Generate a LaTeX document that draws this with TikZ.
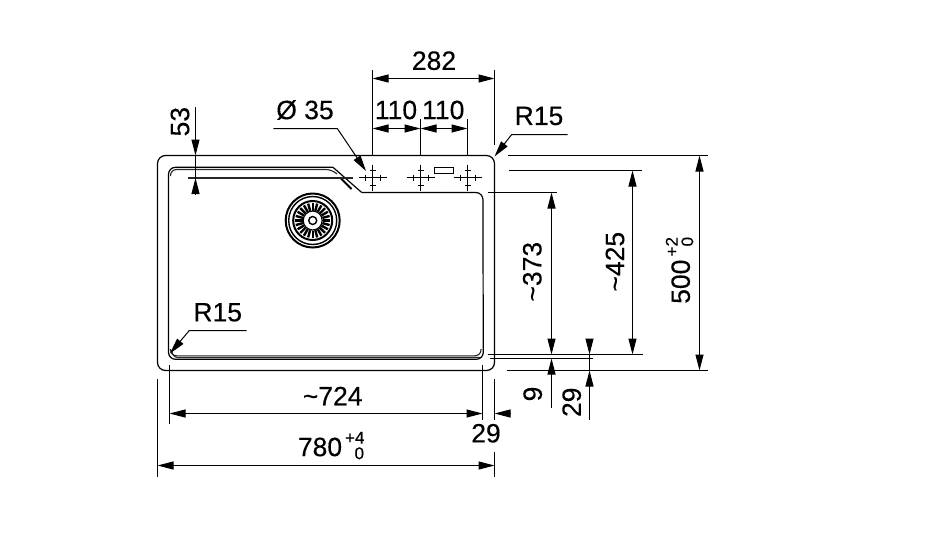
\documentclass[tikz,border=0pt]{standalone}
\usepackage{fontspec}
\setmainfont[FakeBold=0.25]{Liberation Sans}
\usetikzlibrary{arrows.meta}
\tikzset{
  % Set arrowhead
  >={Triangle[length=16pt,width=8pt]},
  % Labels
  lab/.style={inner sep=0pt, font=\fontsize{26.5}{26.5}\selectfont},
  tol/.style={inner sep=0pt, font=\fontsize{17}{17}\selectfont},
  % Sink contours
  body/.style={line width=1.2pt, black},
  lip/.style={line width=1.1pt, black!85},
  % Dimension lines
  dim/.style={line width=1pt, black},
  ext/.style={line width=1pt, black},
  leader/.style={line width=1pt, black, ->},
  % Hole marks
  mark line/.style={line width=1pt, black},
}
\begin{document}
\begin{tikzpicture}[x=1pt, y=-1pt]
  \useasboundingbox (0,0) rectangle (940,539);

  % sink outline
  \draw[body, rounded corners=8pt] (157.5,155.5) rectangle (494.5,370.5);
  \draw[body, rounded corners=7pt] (361.7,192.5) -- (482.9,192.5)
    -- (483.3,359.3) -- (168.5,359.3) -- (168.5,167.3) -- (333,167.3);
  \draw[body] (333,167.3) -- (361.7,192.5);
  \draw[lip, rounded corners=6pt] (170.5,176) -- (170.5,169.5) -- (332,169.5) -- (337,174);
  \draw[lip, rounded corners=6pt] (170.5,349) -- (170.5,355.8) -- (481,355.8) -- (481,349);
  \draw[lip, rounded corners=6pt] (172,350) -- (172,357.5) -- (480,357.5);
  \draw[line width=2pt] (341,178.5) -- (351.5,189);

  % centre line of the lip
  \draw[lip] (188,178) -- (353,178);

  % strainer
  \coordinate (strainer) at (312.7,220.5);
  \draw[line width=2pt] (strainer) circle (27);
  \draw[line width=1.4pt] (strainer) circle (24);
  \draw[line width=2pt] (strainer) circle (19.5);
  \draw[line width=1.2pt] (strainer) circle (9.5);
  \draw[line width=1.4pt] (strainer) circle (4);
  \foreach \a in {0,15,...,345}
    \draw[line width=2.4pt] (strainer) ++(\a:10) -- ++(\a:7.5);

  % tap holes
  \foreach \x/\name in {372.5/holea, 420.5/holeb, 467.5/holec} {
    \coordinate (\name) at (\x,177.5);
    \draw[mark line] (\name) ++(-14,0) -- ++(28,0);
    \draw[mark line] (\name) ++(0,-13) -- ++(0,26);
    \draw[mark line] (\name) ++(-7.5,-3) -- ++(0,6);
    \draw[mark line] (\name) ++(7.5,-3) -- ++(0,6);
    \draw[mark line] (\name) ++(-3,-7.5) -- ++(6,0);
    \draw[mark line] (\name) ++(-3,7.5) -- ++(6,0);
  }
  \draw[line width=1.3pt] (434.5,167.5) rectangle (453.5,173.5);

  % extension lines, top
  \draw[ext] (372.5,70) -- (372.5,155.5);
  \draw[ext] (494.5,70) -- (494.5,145);
  \draw[ext] (420.5,119.3) -- (420.5,155.5);
  \draw[ext] (467.5,119.3) -- (467.5,155.5);

  % top dimensions
  \draw[dim, <->] (372.5,78.5) -- (494.5,78.5);
  \draw[dim, <->] (372.5,128.5) -- (420.5,128.5);
  \draw[dim, <->] (420.5,128.5) -- (467.5,128.5);
  \node[lab] (w282) at (434,60.7) {282};
  \node[lab] (w110a) at (396,110) {110};
  \node[lab] (w110b) at (443.3,110) {110};

  % hole diameter
  \node[lab] (holedia) at (305,110) {Ø 35};
  \draw[leader] (273.3,128.5) -- (337.3,128.5) -- (366,171);

  % corner radii
  \node[lab] (rtop) at (539,116) {R15};
  \draw[leader] (567.7,134.5) -- (511.7,134.5) -- (494.5,156.5);
  \node[lab] (rbottom) at (217.7,312.3) {R15};
  \draw[leader] (246.7,330.5) -- (189.3,330.5) -- (170,353.5);

  % lip depth
  \node[lab, rotate=90] (d53) at (180,121.7) {53};
  \draw[dim, ->] (195.5,107.3) -- (195.5,155.5);
  \draw[dim, ->] (195.5,194.3) -- (195.5,178);
  \draw[dim] (195.5,155.5) -- (195.5,178);

  % extension lines, bottom
  \draw[ext] (169.5,365) -- (169.5,424);
  \draw[ext] (482.5,365) -- (482.5,420);
  \draw[ext] (494.5,379.3) -- (494.5,420);
  \draw[ext] (157.5,379) -- (157.5,476.7);
  \draw[ext] (494.5,451.7) -- (494.5,476.7);

  % bottom dimensions
  \draw[dim, <->] (169.5,413.5) -- (482.5,413.5);
  \draw[dim, <-] (494.5,413.5) -- (511,413.5);
  \draw[dim, <->] (157.5,465.5) -- (494.5,465.5);
  \node[lab] (w724) at (332.7,396) {\textasciitilde 724};
  \node[lab] (w29) at (486,433.3) {29};
  \node[lab] (w780) at (320,447) {780};
  \node[tol] (w780up) at (354.7,437.7) {+4};
  \node[tol] (w780lo) at (359.3,453.3) {0};

  % extension lines, right
  \draw[ext] (508.3,155.5) -- (708.3,155.5);
  \draw[ext] (509,170.5) -- (641.7,170.5);
  \draw[ext] (488,192.5) -- (556.7,192.5);
  \draw[ext] (487.7,354.5) -- (642.7,354.5);
  \draw[ext] (490,358.5) -- (593.3,358.5);
  \draw[ext] (506.7,370.5) -- (708.3,370.5);

  % right dimensions
  \draw[dim, <->] (551.5,192.5) -- (551.5,354.5);
  \draw[dim, <->] (632.5,170.5) -- (632.5,354.5);
  \draw[dim, <->] (699.5,155.5) -- (699.5,370.5);
  \draw[dim, <-] (551.5,358.5) -- (551.5,408.3);
  \draw[dim, ->] (589.5,340) -- (589.5,354.5);
  \draw[dim, <-] (589.5,370.5) -- (589.5,420);
  \draw[dim] (589.5,354.5) -- (589.5,370.5);
  \node[lab, rotate=90] (h373) at (532.3,271.7) {\textasciitilde 373};
  \node[lab, rotate=90] (h425) at (615,261.7) {\textasciitilde 425};
  \node[lab, rotate=90] (h500) at (680.7,281.7) {500};
  \node[tol, rotate=90] (h500up) at (671.7,246.7) {+2};
  \node[tol, rotate=90] (h500lo) at (687.3,241.7) {0};
  \node[lab, rotate=90] (h9) at (532.7,394) {9};
  \node[lab, rotate=90] (h29) at (571.7,402.3) {29};
\end{tikzpicture}
\end{document}
